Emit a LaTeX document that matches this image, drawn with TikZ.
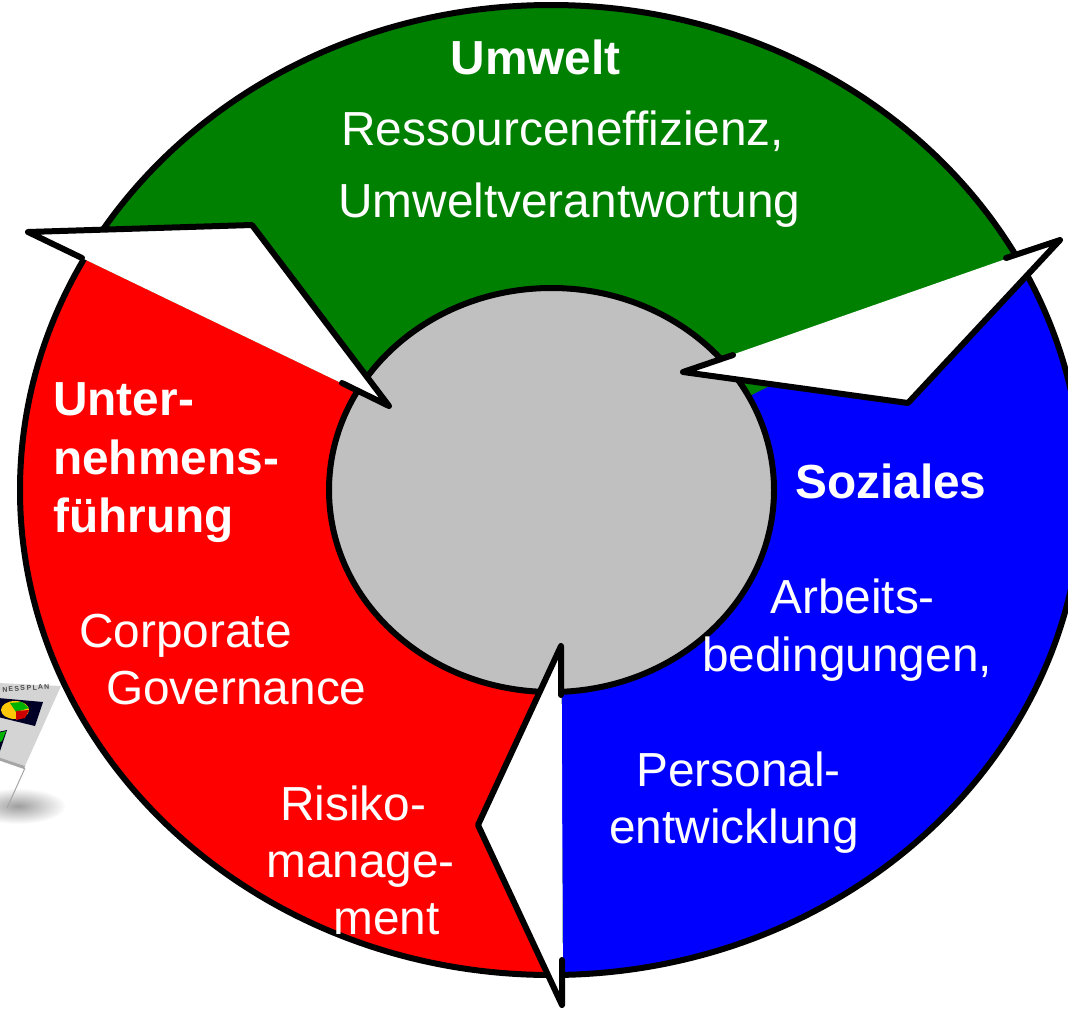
\documentclass[tikz,border=0pt]{standalone}
\usepackage{fontspec}
\setmainfont{Liberation Sans}
\definecolor{ugreen}{HTML}{008000}
\definecolor{ugray}{HTML}{C0C0C0}
\tikzset{
  px/.style={x=1pt,y=-1pt},
  lbl/.style={anchor=base west,inner sep=0pt,text=white,font=\fontsize{47.8}{58.5}\selectfont},
  lblb/.style={lbl,font=\fontsize{47.8}{58.5}\selectfont\bfseries,align=left},
  ringline/.style={draw=black,line width=6pt},
  arrowfill/.style={fill=white,draw=none},
  arrowedge/.style={draw=black,line width=6pt,line cap=round,line join=round}
}
\begin{document}
\begin{tikzpicture}[px]
\useasboundingbox (0,0) rectangle (1068,1009);
\clip (0,0) rectangle (1068,1009);
% business plan picture
\shade[inner color=black!38,outer color=white,draw=none] (18,806) ellipse (48 and 18);
\draw[gray!70,line width=1pt] (25,768) -- (7,808);
\fill[black!17] (-2,683) -- (61,686) -- (25,766) -- (-2,757) -- cycle;
\fill[black!35] (-2,757) -- (25,766) -- (24,769) -- (-2,760) -- cycle;
\fill[black!85!blue] (-2,698) -- (43,702) -- (35,726) -- (-2,717) -- cycle;
\fill[black!85!blue] (-2,732) -- (7,730) -- (0,751) -- (-2,750) -- cycle;
\fill[green!70!black] (-2,733) -- (6,731) -- (2,741) -- (-2,743) -- cycle;
\fill[yellow!60!orange] (15,710) ellipse (14 and 9);
\fill[green!70!black] (10,703) -- (22,702) -- (29,708) -- (16,712) -- cycle;
\fill[red!80!black] (16,711) -- (29,710) -- (25,718) -- (16,720) -- cycle;
\node[anchor=base,inner sep=0pt,rotate=4,font=\bfseries\fontsize{7}{8}\selectfont,text=black!70] (plan) at (26,690.5) {N\,E\,S\,S\ P\,L\,A\,N};
% ring
\fill[ugreen] (551,490) ellipse (531 and 485);
\begin{scope}
  \clip (563,1009) -- (561.5,690) -- (750,396) -- (1060,240) -- (1100,240) -- (1100,1009) -- cycle;
  \fill[blue] (551,490) ellipse (531 and 485);
\end{scope}
\begin{scope}
  \clip (562,1009) -- (561,690) -- (551,490) -- (389,406) -- (28,232) -- (-10,232) -- (-10,1009) -- cycle;
  \fill[red] (551,490) ellipse (531 and 485);
\end{scope}
\draw[ringline] (551,490) ellipse (531 and 485);
\draw[ringline,fill=ugray] (551.5,490) ellipse (222.5 and 202);
% arrows
\path[arrowfill] (28,232) -- (252,225) -- (389,406) -- cycle;
\path[arrowfill] (1060,240) -- (908,403) -- (683,372) -- cycle;
\path[arrowfill] (561.5,646) -- (478,825) -- (563,1005) -- cycle;
\draw[arrowedge] (82,258) -- (28,232) -- (252,225) -- (389,406) -- (342,383);
\draw[arrowedge] (1006,258) -- (1060,240) -- (908,403) -- (683,372) -- (733,355);
\draw[arrowedge] (561,695) -- (561,646) -- (478,825) -- (562,1005) -- (562,960);
% labels
\node[lblb] (umwelt) at (450.5,74) {Umwelt};
\node[lbl] (res) at (341,145) {Ressourceneffizienz,};
\node[lbl] (umv) at (338,217) {Umweltverantwortung};
\node[lblb] (unter) at (53,415) {Unter-};
\node[lblb] (nehmens) at (53,474) {nehmens-};
\node[lblb] (fuehrung) at (53,532) {führung};
\node[lbl] (corp) at (79,647) {Corporate};
\node[lbl] (gov) at (106,704) {Governance};
\node[lbl] (ris) at (280,820) {Risiko-};
\node[lbl] (man) at (266,877) {manage-};
\node[lbl] (ment) at (333,934) {ment};
\node[lblb] (soz) at (795,498) {Soziales};
\node[lbl] (arb) at (770,613) {Arbeits-};
\node[lbl] (bed) at (702,671) {bedingungen,};
\node[lbl] (per) at (636,786) {Personal-};
\node[lbl] (ent) at (609,843) {entwicklung};
\end{tikzpicture}
\end{document}
